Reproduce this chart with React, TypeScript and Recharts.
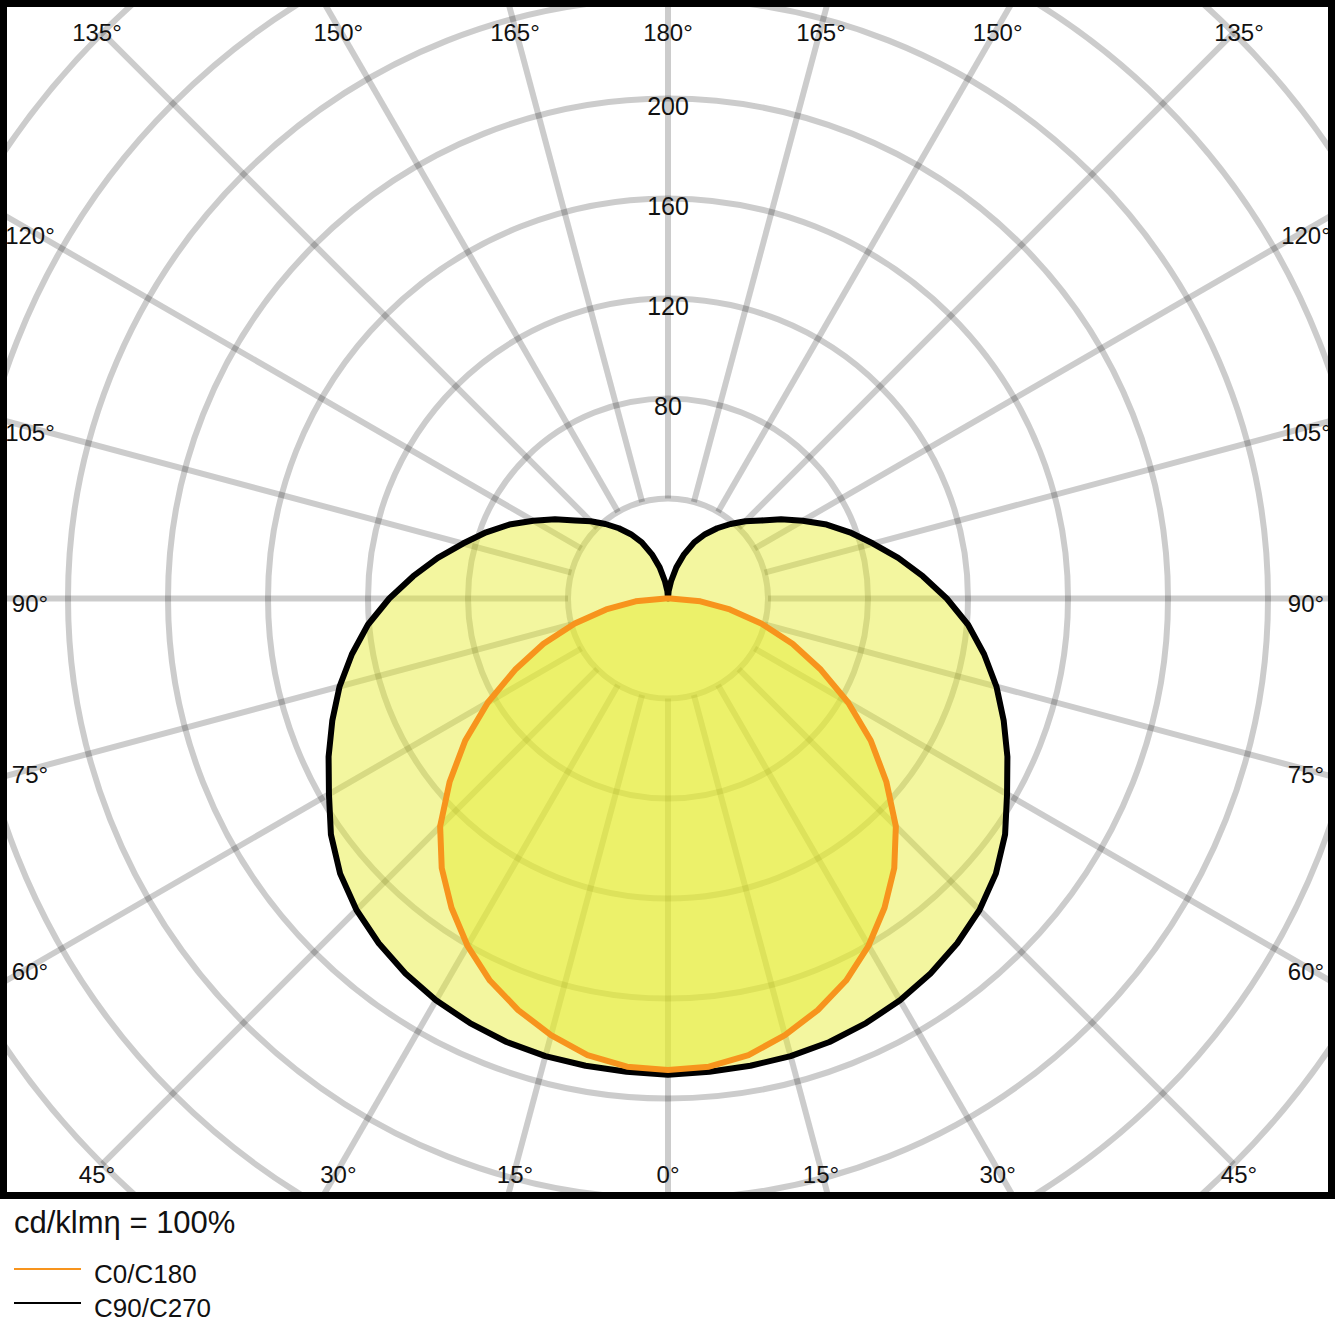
import React from 'react';
import { RadarChart, Radar, PolarGrid, PolarAngleAxis, PolarRadiusAxis } from 'recharts';

// gamma angles of the measured half-plane (0 = straight down, 180 = straight up)
const gammaDeg = [
  0, 5, 10, 15, 20, 25, 30, 35, 40, 45, 50, 55, 60, 65, 70, 75, 80, 85, 90,
  95, 100, 105, 110, 115, 120, 125, 130, 135, 140, 145, 150, 155, 160, 165, 170, 175, 180,
];

// luminous intensity, cd/klm
const c0c180 = [
  188.6, 188, 185.5, 180.8, 175.2, 168.6, 160.4, 151, 140.8, 128.9, 114, 99, 83.2, 67.5, 53, 38.6, 25.1, 13, 1,
  0, 0, 0, 0, 0, 0, 0, 0, 0, 0, 0, 0, 0, 0, 0, 0, 0, 0,
];
const c90c270 = [
  190.5, 190, 189.8, 189.5, 188.8, 187.4, 185.6, 183.1, 180, 176.2, 171.2, 164.6, 156.6, 149.8, 142.9, 136, 128.4, 120.5, 111.5,
  102.3, 93.5, 84.9, 77.4, 70, 62.2, 55.2, 48.5, 43.7, 38.9, 34.3, 29.7, 24.8, 18.8, 12.9, 7, 3, 0,
];

const angleTicks = [0, 15, 30, 45, 60, 75, 90, 105, 120, 135, 150, 165, 180, 195, 210, 225, 240, 255, 270, 285, 300, 315, 330, 345];
const ringTicks = [40, 80, 120, 160, 200, 240, 280, 320];
const ringLabels = [80, 120, 160, 200];

const series = [
  { key: 'c0', name: 'C0/C180', color: '#F7941D' },
  { key: 'c90', name: 'C90/C270', color: '#000000' },
];

// full circle: right half is gamma 0..180, left half mirrors it back down
const rows = [
  ...gammaDeg.map((g, i) => ({ angle: g, c0: c0c180[i], c90: c90c270[i] })),
  ...gammaDeg
    .map((g, i) => ({ angle: 360 - g, c0: c0c180[i], c90: c90c270[i] }))
    .slice(1, -1)
    .reverse(),
];

const FONT = '"Liberation Sans", Arial, Helvetica, sans-serif';
const CHART_W = 1321;
const CHART_H = 1185;
const CX = 661;
const CY = 591.5;
const EDGE_X = 638;
const EDGE_Y = 571;
const gridStroke = { stroke: '#000', strokeOpacity: 0.2, strokeWidth: 6 };

const AngleTick = (props: any) => {
  const { x, y, payload } = props;
  const dx = x - CX;
  const dy = y - CY;
  const tx = Math.abs(dx) > 1e-6 ? EDGE_X / Math.abs(dx) : Infinity;
  const ty = Math.abs(dy) > 1e-6 ? EDGE_Y / Math.abs(dy) : Infinity;
  const t = Math.min(tx, ty);
  const v = Math.round(payload.value);
  const gamma = v <= 180 ? v : 360 - v;
  return (
    <text
      x={CX + dx * t}
      y={CY + dy * t + 5}
      textAnchor="middle"
      dominantBaseline="central"
      fontSize={24}
      fontFamily={FONT}
      fill="#111"
    >
      {gamma}°
    </text>
  );
};

const RadiusTick = (props: any) => {
  const { x, y, payload } = props;
  if (!ringLabels.includes(payload.value)) return <g />;
  return (
    <text
      x={x}
      y={y + 7}
      textAnchor="middle"
      dominantBaseline="central"
      fontSize={25}
      fontFamily={FONT}
      fill="#111"
    >
      {payload.value}
    </text>
  );
};

const App: React.FC = () => {
  // wide curve first so its fill does not tint the orange outline
  const drawOrder = [...series].reverse();
  return (
    <div style={{ position: 'absolute', left: 0, top: 0, width: 1335, height: 1335, background: '#fff' }}>
      <div
        style={{
          position: 'absolute',
          left: 0,
          top: 0,
          width: 1335,
          height: 1199,
          boxSizing: 'border-box',
          border: '7px solid #000',
          overflow: 'hidden',
        }}
      >
        <RadarChart
          width={CHART_W}
          height={CHART_H}
          data={rows}
          cx={CX}
          cy={CY}
          outerRadius={800}
          startAngle={-90}
          endAngle={270}
          margin={{ top: 0, right: 0, bottom: 0, left: 0 }}
        >
          <PolarGrid gridType="circle" radialLines={false} {...gridStroke} />
          <PolarAngleAxis
            dataKey="angle"
            type="number"
            domain={[0, 360]}
            ticks={angleTicks}
            orientation="inner"
            tickSize={700}
            tickLine={gridStroke}
            axisLine={false}
            tick={AngleTick}
            zIndex={-50}
          />
          <PolarRadiusAxis
            angle={90}
            type="number"
            domain={[0, 320]}
            ticks={ringTicks}
            axisLine={false}
            tickLine={false}
            tick={RadiusTick}
          />
          {drawOrder.map((s) => (
            <Radar
              key={s.key}
              name={s.name}
              dataKey={s.key}
              stroke={s.color}
              strokeWidth={6}
              strokeLinejoin="round"
              fill="#E5EA2A"
              fillOpacity={0.45}
              dot={false}
              isAnimationActive={false}
            />
          ))}
        </RadarChart>
      </div>
      <svg
        width={1335}
        height={136}
        style={{ position: 'absolute', left: 0, top: 1199 }}
        fontFamily={FONT}
      >
        <text x={14} y={34} fontSize={31} fill="#111">
          cd/klmη = 100%
        </text>
        {series.map((s, i) => (
          <g key={s.key}>
            <line x1={14} x2={81} y1={70 + i * 34} y2={70 + i * 34} stroke={s.color} strokeWidth={2} />
            <text x={94} y={84 + i * 34} fontSize={26} fill="#111">
              {s.name}
            </text>
          </g>
        ))}
      </svg>
    </div>
  );
};

export default App;
